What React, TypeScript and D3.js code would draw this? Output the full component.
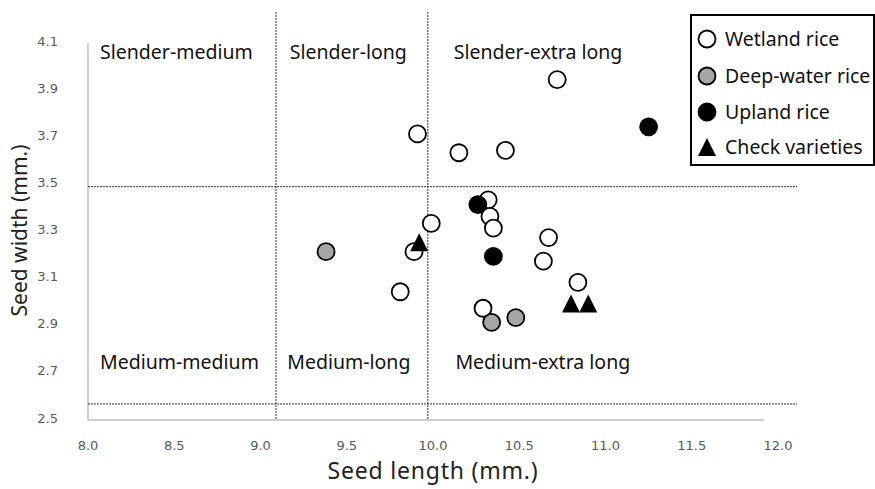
import { useEffect, useRef } from 'react'
import * as d3 from 'd3'

// seed length (x) / seed width (y), mm
const wetlandX = [10.72, 9.91, 10.15, 10.42, 10.32, 10.33, 10.35, 9.99, 9.89, 10.67, 10.64, 10.84, 9.81, 10.29]
const wetlandY = [3.94, 3.71, 3.63, 3.64, 3.43, 3.36, 3.31, 3.33, 3.21, 3.27, 3.17, 3.08, 3.04, 2.97]
const deepWaterX = [9.38, 10.34, 10.48]
const deepWaterY = [3.21, 2.91, 2.93]
const uplandX = [10.26, 10.35, 11.25]
const uplandY = [3.41, 3.19, 3.74]
const checkX = [9.92, 10.8, 10.9]
const checkY = [3.25, 2.99, 2.99]

const xTicks = [8.0, 8.5, 9.0, 9.5, 10.0, 10.5, 11.0, 11.5, 12.0]
const yTicks = [2.5, 2.7, 2.9, 3.1, 3.3, 3.5, 3.7, 3.9, 4.1]

// class boundaries
const lengthCuts = [9.09, 9.97]
const widthCuts = [2.564, 3.486]

const zoneLabels = ['Slender-medium', 'Slender-long', 'Slender-extra long', 'Medium-medium', 'Medium-long', 'Medium-extra long']
const zoneX = [8.07, 9.17, 10.12, 8.07, 9.155, 10.13]
const zoneY = [4.055, 4.055, 4.055, 2.74, 2.74, 2.74]

const legendNames = ['Wetland rice', 'Deep-water rice', 'Upland rice', 'Check varieties']

const App = () => {
  const ref = useRef<SVGSVGElement>(null)

  useEffect(() => {
    const width = 875
    const height = 489
    const font = '"Noto Sans", sans-serif'

    const x = d3.scaleLinear().domain([8, 12]).range([88, 778])
    const y = d3.scaleLinear().domain([2.5, 4.1]).range([419, 42])

    const svg = d3.select(ref.current)
      .attr('width', width)
      .attr('height', height)
      .attr('viewBox', [0, 0, width, height])
    svg.selectAll('*').remove()

    // axis lines (no ticks)
    svg.append('line')
      .attr('x1', x(8)).attr('x2', x(8))
      .attr('y1', y(4.1) + 1).attr('y2', y(2.5) + 1)
      .attr('stroke', '#bfbfbf').attr('stroke-width', 1.5)
    svg.append('line')
      .attr('x1', x(8)).attr('x2', x(11.92))
      .attr('y1', y(2.5) + 1).attr('y2', y(2.5) + 1)
      .attr('stroke', '#bfbfbf').attr('stroke-width', 1.5)

    // tick labels
    svg.append('g')
      .selectAll('text')
      .data(yTicks)
      .join('text')
      .attr('x', 58)
      .attr('y', (d) => y(d) - 1)
      .attr('dy', '0.35em')
      .attr('text-anchor', 'end')
      .attr('fill', '#595959')
      .attr('font-family', '"DejaVu Sans", sans-serif')
      .attr('font-size', 13)
      .text((d) => d.toFixed(1))

    svg.append('g')
      .selectAll('text')
      .data(xTicks)
      .join('text')
      .attr('x', (d) => x(d))
      .attr('y', 450)
      .attr('text-anchor', 'middle')
      .attr('fill', '#595959')
      .attr('font-family', '"DejaVu Sans", sans-serif')
      .attr('font-size', 13)
      .text((d) => d.toFixed(1))

    // axis titles
    svg.append('text')
      .attr('x', x(10))
      .attr('y', 479)
      .attr('text-anchor', 'middle')
      .attr('font-family', font)
      .attr('font-size', 23)
      .attr('letter-spacing', 0.8)
      .attr('fill', '#222')
      .text('Seed length (mm.)')
    svg.append('text')
      .attr('transform', `translate(27,${y(3.3)}) rotate(-90)`)
      .attr('text-anchor', 'middle')
      .attr('font-family', font)
      .attr('font-size', 21)
      .attr('fill', '#222')
      .text('Seed width (mm.)')

    // dashed class boundaries
    const dash = svg.append('g')
      .attr('stroke', '#333')
      .attr('stroke-width', 1)
      .attr('stroke-dasharray', '2,1')
    dash.selectAll('.v')
      .data(lengthCuts)
      .join('line')
      .attr('x1', (d) => x(d)).attr('x2', (d) => x(d))
      .attr('y1', 12).attr('y2', y(2.5) + 1)
    dash.selectAll('.h')
      .data(widthCuts)
      .join('line')
      .attr('x1', x(8)).attr('x2', 797)
      .attr('y1', (d) => y(d)).attr('y2', (d) => y(d))

    // zone labels
    svg.append('g')
      .selectAll('text')
      .data(zoneLabels)
      .join('text')
      .attr('x', (_, i) => x(zoneX[i]))
      .attr('y', (_, i) => y(zoneY[i]))
      .attr('dy', '0.35em')
      .attr('font-family', font)
      .attr('font-size', 19.5)
      .attr('fill', '#111')
      .text((d) => d)

    const tri = (cx: number, cy: number, s: number) =>
      `M${cx},${cy - s}L${cx + s},${cy + s}L${cx - s},${cy + s}Z`

    const circles = (xs: number[], ys: number[], fill: string) => {
      svg.append('g')
        .selectAll('circle')
        .data(xs)
        .join('circle')
        .attr('cx', (d) => x(d))
        .attr('cy', (_, i) => y(ys[i]))
        .attr('r', 8.5)
        .attr('fill', fill)
        .attr('stroke', '#000')
        .attr('stroke-width', 1.8)
    }
    circles(wetlandX, wetlandY, '#fff')
    circles(deepWaterX, deepWaterY, '#a6a6a6')
    circles(uplandX, uplandY, '#000')

    svg.append('g')
      .selectAll('path')
      .data(checkX)
      .join('path')
      .attr('d', (d, i) => tri(x(d), y(checkY[i]), 9))
      .attr('fill', '#000')

    // legend
    const lg = svg.append('g')
    lg.append('rect')
      .attr('x', 691).attr('y', 15)
      .attr('width', 183).attr('height', 150)
      .attr('fill', '#fff')
      .attr('stroke', '#000')
      .attr('stroke-width', 2)
    const rowY = [39, 76, 112, 147]
    const fills = ['#fff', '#a6a6a6', '#000']
    fills.forEach((f, i) => {
      lg.append('circle')
        .attr('cx', 707).attr('cy', rowY[i]).attr('r', 8.5)
        .attr('fill', f).attr('stroke', '#000').attr('stroke-width', 1.8)
    })
    lg.append('path').attr('d', tri(707, rowY[3], 9)).attr('fill', '#000')
    lg.selectAll('text')
      .data(legendNames)
      .join('text')
      .attr('x', 725)
      .attr('y', (_, i) => rowY[i])
      .attr('dy', '0.35em')
      .attr('font-family', font)
      .attr('font-size', 19.5)
      .attr('fill', '#111')
      .text((d) => d)
  }, [])

  return <svg ref={ref} style={{ position: 'absolute', left: 0, top: 0 }} />
}

export default App
